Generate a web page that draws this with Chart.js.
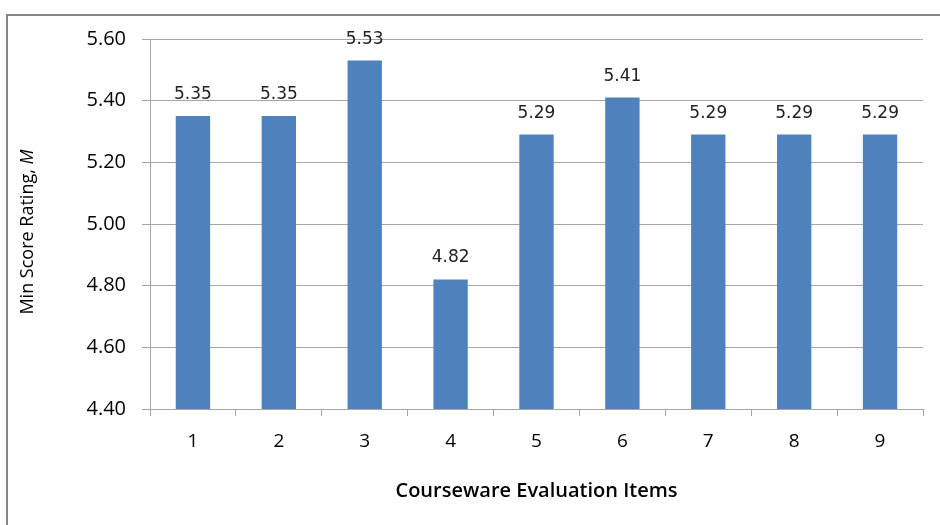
<!DOCTYPE html>
<html lang="en">
<head>
    <meta charset="UTF-8">
    <title>Courseware Evaluation Items</title>
    <script src="https://cdn.jsdelivr.net/npm/chart.js@4.4.1/dist/chart.umd.min.js"></script>
    <style>
        body { margin: 0; background: #fff; }
        #wrap { width: 940px; height: 525px; }
    </style>
</head>
<body>
    <div id="wrap"><canvas id="myChart" width="940" height="525"></canvas></div>

    <script>
        const items = ['1', '2', '3', '4', '5', '6', '7', '8', '9']
        const minScores = [5.35, 5.35, 5.53, 4.82, 5.29, 5.41, 5.29, 5.29, 5.29]
        const yMin = 4.40
        const yMax = 5.60
        const yStep = 0.20

        const gray = '#a6a6a6'
        const font = 'Open Sans'

        // рамка вокруг графика (видны только левая и верхняя стороны)
        const framePlugin = {
            id: 'frame',
            beforeDraw(chart) {
                const ctx = chart.ctx
                ctx.save()
                ctx.strokeStyle = '#868686'
                ctx.lineWidth = 2
                ctx.beginPath()
                ctx.moveTo(7, 525)
                ctx.lineTo(7, 15)
                ctx.lineTo(940, 15)
                ctx.stroke()
                ctx.restore()
            }
        }

        // подписи значений над столбцами
        const valueLabels = {
            id: 'valueLabels',
            afterDatasetsDraw(chart) {
                const ctx = chart.ctx
                const meta = chart.getDatasetMeta(0)
                ctx.save()
                ctx.font = '17px "DejaVu Sans"'
                ctx.fillStyle = '#222'
                ctx.textAlign = 'center'
                ctx.textBaseline = 'bottom'
                meta.data.forEach((bar, i) => {
                    ctx.fillText(minScores[i].toFixed(2), bar.x, bar.y - 13)
                })
                ctx.restore()
            }
        }

        // подпись оси Y с курсивной M
        const yTitle = {
            id: 'yTitle',
            afterDraw(chart) {
                const ctx = chart.ctx
                const area = chart.chartArea
                const part1 = 'Min Score Rating, '
                const part2 = 'M'
                ctx.save()
                ctx.translate(28, (area.top + area.bottom) / 2 + 8)
                ctx.rotate(-Math.PI / 2)
                ctx.fillStyle = '#000'
                ctx.textBaseline = 'middle'
                ctx.textAlign = 'left'
                ctx.font = `18px "${font}"`
                const w1 = ctx.measureText(part1).width
                ctx.font = `italic 18px "${font}"`
                const w2 = ctx.measureText(part2).width
                const x = -(w1 + w2) / 2
                ctx.font = `18px "${font}"`
                ctx.fillText(part1, x, 0)
                ctx.font = `italic 18px "${font}"`
                ctx.fillText(part2, x + w1, 0)
                ctx.restore()
            }
        }

        const ctx = document.getElementById('myChart').getContext('2d')
        const myChart = new Chart(ctx, {
            type: 'bar',
            data: {
                labels: items,
                datasets: [{
                    data: minScores,
                    backgroundColor: '#4f81bd',
                    borderWidth: 0,
                    categoryPercentage: 1,
                    barPercentage: 0.4
                }]
            },
            options: {
                responsive: false,
                animation: false,
                layout: {
                    padding: { top: 39, right: 17, bottom: 22, left: 16 }
                },
                scales: {
                    x: {
                        afterFit: scale => { scale.height = 94 },
                        grid: {
                            drawOnChartArea: false,
                            tickLength: 7,
                            color: gray
                        },
                        border: { color: gray, width: 1 },
                        ticks: {
                            color: '#000',
                            padding: 14,
                            font: { family: font, size: 19 }
                        },
                        title: {
                            display: true,
                            text: 'Courseware Evaluation Items',
                            color: '#000',
                            padding: { top: 0, bottom: 0 },
                            font: { family: font, size: 20, weight: 600 }
                        }
                    },
                    y: {
                        min: yMin,
                        max: yMax,
                        afterFit: scale => { scale.width = 134 },
                        grid: {
                            color: gray,
                            tickLength: 8
                        },
                        border: { color: gray, width: 1 },
                        ticks: {
                            stepSize: yStep,
                            color: '#000',
                            padding: 16,
                            font: { family: font, size: 20 },
                            callback: v => v.toFixed(2)
                        },
                        title: {
                            display: true,
                            text: 'Min Score Rating, M',
                            color: 'rgba(0,0,0,0)',
                            font: { family: font, size: 18 }
                        }
                    }
                },
                plugins: {
                    legend: { display: false },
                    tooltip: { enabled: false }
                }
            },
            plugins: [framePlugin, valueLabels, yTitle]
        })
    </script>
</body>
</html>
